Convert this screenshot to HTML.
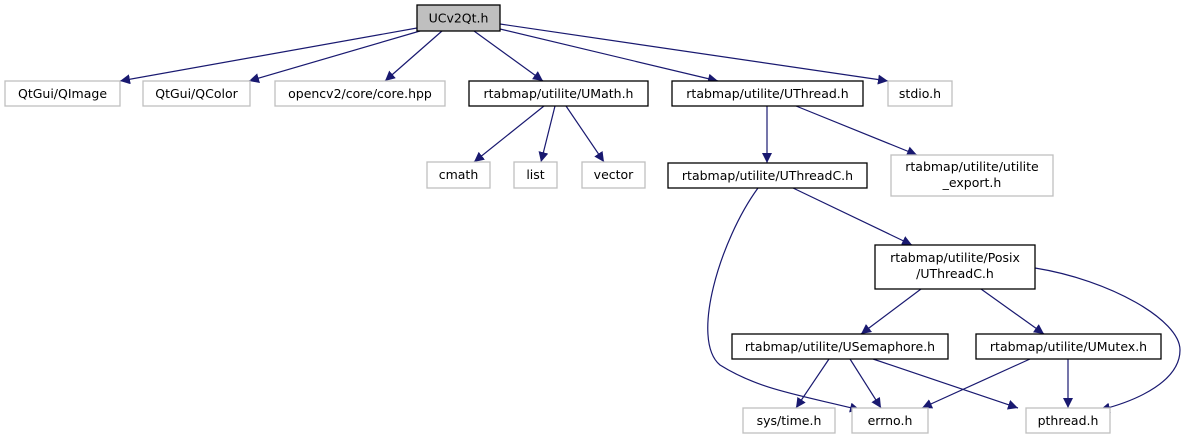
<!DOCTYPE html>
<html><head><meta charset="utf-8"><style>
html,body{margin:0;padding:0;background:#fff;}
svg{display:block;}
text{font-family:"DejaVu Sans","Liberation Sans",sans-serif;font-size:12.5px;fill:#000;text-anchor:middle;}
.g{fill:#fff;stroke:#bfbfbf;stroke-width:1.3;}
.b{fill:#fff;stroke:#000;stroke-width:1.3;}
.e{fill:none;stroke:#191970;stroke-width:1.2;}
</style></head><body>
<svg width="1185" height="440" viewBox="0 0 1185 440">
<defs><marker id="a" viewBox="0 0 10 10" refX="10" refY="5" markerWidth="10" markerHeight="10" markerUnits="userSpaceOnUse" orient="auto"><path d="M0,0 L10,5 L0,10 z" fill="#191970"/></marker></defs>
<!-- edges -->
<path class="e" marker-end="url(#a)" d="M417,28 L120,81"/>
<path class="e" marker-end="url(#a)" d="M420,31 L249,81"/>
<path class="e" marker-end="url(#a)" d="M442,31 L385,81"/>
<path class="e" marker-end="url(#a)" d="M474,31 L543,81"/>
<path class="e" marker-end="url(#a)" d="M500,29 L718,81"/>
<path class="e" marker-end="url(#a)" d="M500,24 L888,81"/>
<path class="e" marker-end="url(#a)" d="M544,106 L474,162"/>
<path class="e" marker-end="url(#a)" d="M555,106 L541,162"/>
<path class="e" marker-end="url(#a)" d="M566,106 L604,162"/>
<path class="e" marker-end="url(#a)" d="M767,106 L767,163"/>
<path class="e" marker-end="url(#a)" d="M796,106 L917,155"/>
<path class="e" marker-end="url(#a)" d="M793,188 L912,245"/>
<path class="e" marker-end="url(#a)" d="M758,188 C720,240 690,340 720,365 C760,390 800,395 860,410"/>
<path class="e" marker-end="url(#a)" d="M921,289 L861,334"/>
<path class="e" marker-end="url(#a)" d="M981,289 L1044,334"/>
<path class="e" marker-end="url(#a)" d="M1035,268 C1110,280 1180,320 1180,350 C1180,380 1140,400 1100,410"/>
<path class="e" marker-end="url(#a)" d="M829,359 L796,408"/>
<path class="e" marker-end="url(#a)" d="M850,359 L881,408"/>
<path class="e" marker-end="url(#a)" d="M873,359 L1018,408"/>
<path class="e" marker-end="url(#a)" d="M1030,359 L922,408"/>
<path class="e" marker-end="url(#a)" d="M1068,359 L1068,408"/>
<!-- nodes -->
<rect x="417" y="5" width="83" height="26" fill="#bfbfbf" stroke="#000" stroke-width="1.3"/><text x="458.5" y="22.5">UCv2Qt.h</text>
<rect class="g" x="5" y="81" width="115" height="25"/><text x="62.5" y="98">QtGui/QImage</text>
<rect class="g" x="143" y="81" width="107" height="25"/><text x="196.5" y="98">QtGui/QColor</text>
<rect class="g" x="275" y="81" width="170" height="25"/><text x="360" y="98">opencv2/core/core.hpp</text>
<rect class="b" x="469" y="81" width="179" height="25"/><text x="558.5" y="98">rtabmap/utilite/UMath.h</text>
<rect class="b" x="672" y="81" width="191" height="25"/><text x="767.5" y="98">rtabmap/utilite/UThread.h</text>
<rect class="g" x="888" y="81" width="64" height="25"/><text x="920" y="98">stdio.h</text>
<rect class="g" x="427" y="162" width="63" height="26"/><text x="458.5" y="179">cmath</text>
<rect class="g" x="514" y="162" width="43" height="26"/><text x="535.5" y="179">list</text>
<rect class="g" x="582" y="162" width="63" height="26"/><text x="613.5" y="179">vector</text>
<rect class="b" x="668" y="163" width="199" height="25"/><text x="767.5" y="180">rtabmap/utilite/UThreadC.h</text>
<rect class="g" x="891" y="155" width="162" height="41"/><text x="972" y="171">rtabmap/utilite/utilite</text><text x="972" y="187">_export.h</text>
<rect class="b" x="875" y="245" width="160" height="44"/><text x="955" y="262">rtabmap/utilite/Posix</text><text x="955" y="278">/UThreadC.h</text>
<rect class="b" x="732" y="334" width="216" height="25"/><text x="840" y="351">rtabmap/utilite/USemaphore.h</text>
<rect class="b" x="976" y="334" width="185" height="25"/><text x="1068.5" y="351">rtabmap/utilite/UMutex.h</text>
<rect class="g" x="743" y="408" width="92" height="25"/><text x="789" y="425">sys/time.h</text>
<rect class="g" x="852" y="408" width="76" height="25"/><text x="890" y="425">errno.h</text>
<rect class="g" x="1026" y="408" width="84" height="25"/><text x="1068" y="425">pthread.h</text>
</svg>
</body></html>
